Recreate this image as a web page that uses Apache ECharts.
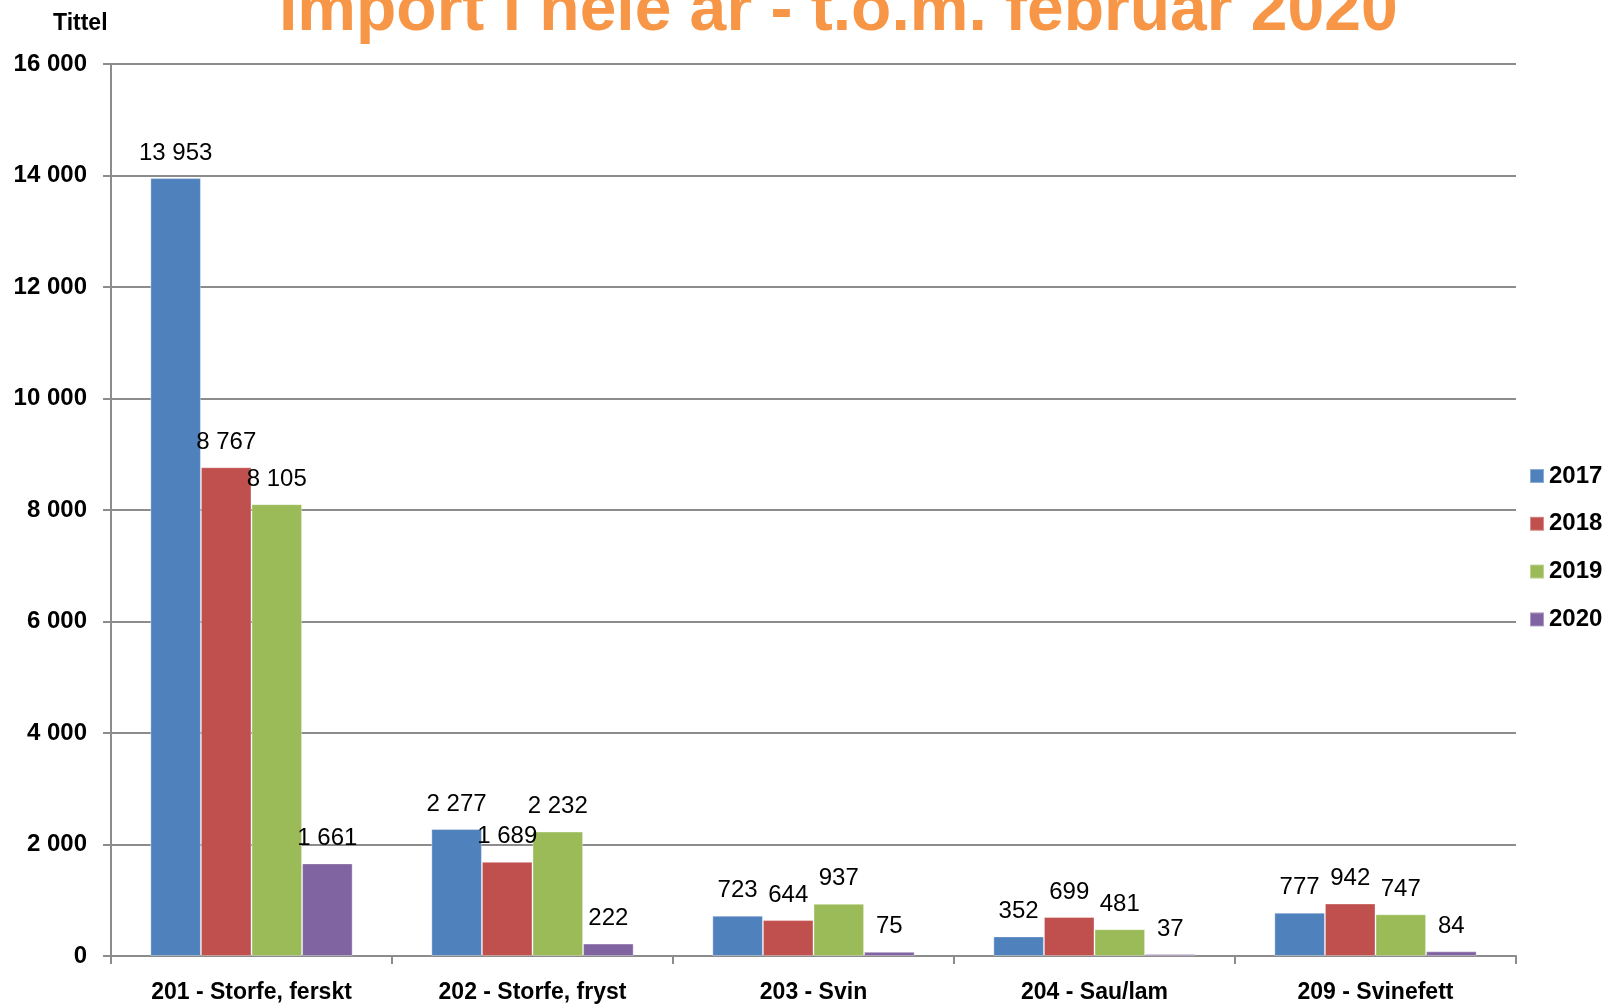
<!DOCTYPE html>
<html>
<head>
<meta charset="utf-8">
<script src="https://cdn.jsdelivr.net/npm/echarts@6/dist/echarts.min.js"></script>
<style>
html,body{margin:0;padding:0;background:#fff;}
#chart{width:1609px;height:1005px;}
</style>
</head>
<body>
<div id="chart"></div>
<script>
const categories = ['201 - Storfe, ferskt', '202 - Storfe, fryst', '203 - Svin', '204 - Sau/lam', '209 - Svinefett'];
const years = ['2017', '2018', '2019', '2020'];
const values2017 = [13953, 2277, 723, 352, 777];
const values2018 = [8767, 1689, 644, 699, 942];
const values2019 = [8105, 2232, 937, 481, 747];
const values2020 = [1661, 222, 75, 37, 84];
const yTicks = { min: 0, max: 16000, interval: 2000 };
const titleText = 'Import i hele år - t.o.m. februar 2020';
const axisTitle = 'Tittel';

const colors = ['#4F81BD', '#C0504D', '#9BBB59', '#8064A2'];
const seriesValues = [values2017, values2018, values2019, values2020];
const FONT = '"Liberation Sans", Arial, sans-serif';

function fmt(v) {
  return String(v).replace(/\B(?=(\d{3})+(?!\d))/g, ' ');
}

const chart = echarts.init(document.getElementById('chart'), null, { renderer: 'canvas' });
chart.setOption({
  animation: false,
  backgroundColor: '#ffffff',
  color: colors,
  title: {
    text: titleText,
    left: 279,
    top: -21,
    padding: 0,
    textStyle: { fontFamily: FONT, fontSize: 66, fontWeight: 'bold', color: '#F79646', lineHeight: 66 }
  },
  graphic: [{
    type: 'text',
    left: 53,
    top: 12,
    style: { text: axisTitle, fontFamily: FONT, fontSize: 23, fontWeight: 'bold', fill: '#000' }
  }],
  legend: {
    orient: 'vertical',
    left: 1529,
    top: 464,
    icon: 'rect',
    itemWidth: 14,
    itemHeight: 14,
    itemGap: 23.8,
    itemTextGap: 10,
    padding: 0,
    textStyle: { fontFamily: FONT, fontSize: 24, fontWeight: 'bold', color: '#000' },
    data: years
  },
  grid: { left: 111, right: 93, top: 64, bottom: 49, containLabel: false },
  xAxis: {
    type: 'category',
    data: categories,
    axisLine: { lineStyle: { color: '#8c8c8c', width: 2 } },
    axisTick: { show: true, length: 8, lineStyle: { color: '#8c8c8c', width: 2 } },
    axisLabel: { fontFamily: FONT, fontSize: 23, fontWeight: 'bold', color: '#000', margin: 25, interval: 0 }
  },
  yAxis: {
    type: 'value',
    min: yTicks.min,
    max: yTicks.max,
    interval: yTicks.interval,
    axisLine: { show: true, lineStyle: { color: '#8c8c8c', width: 2 } },
    axisTick: { show: true, length: 8, lineStyle: { color: '#8c8c8c', width: 2 } },
    splitLine: { show: true, lineStyle: { color: '#8c8c8c', width: 2 } },
    axisLabel: { fontFamily: FONT, fontSize: 24, fontWeight: 'bold', color: '#000', margin: 24, formatter: fmt }
  },
  series: years.map((y, i) => ({
    name: y,
    type: 'bar',
    data: seriesValues[i],
    barGap: '0%',
    barCategoryGap: '28%',
    itemStyle: { color: colors[i], borderColor: 'rgba(255,255,255,0.35)', borderWidth: 1 },
    label: {
      show: true,
      position: 'top',
      distance: 13,
      fontFamily: FONT,
      fontSize: 24,
      color: '#000',
      formatter: p => fmt(p.value)
    }
  }))
});
</script>
</body>
</html>
